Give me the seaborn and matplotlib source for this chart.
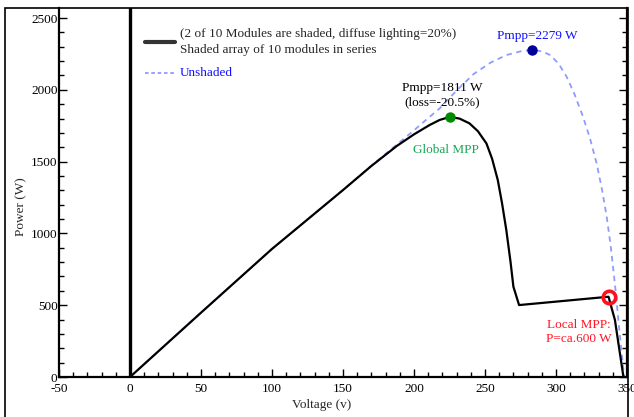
import matplotlib
matplotlib.use("Agg")
import matplotlib.pyplot as plt
import seaborn as sns
import pandas as pd
from matplotlib.patches import Rectangle
from matplotlib.lines import Line2D
from matplotlib.ticker import MultipleLocator

# ---- data ----
v_shaded = [0, 50, 100, 150, 170, 188, 200, 211, 218, 225, 232, 239, 245, 251, 255, 259, 262, 265, 268, 270, 274, 337, 341.5, 347.5]
p_shaded = [0, 448, 892, 1302, 1470, 1610, 1690, 1755, 1790, 1811, 1800, 1767, 1712, 1627, 1520, 1372, 1210, 1024, 800, 629, 501, 559, 397, 0]

v_unshaded = [0, 50, 100, 150, 170, 188, 200, 209, 218, 230, 242, 254, 265, 275, 283, 290, 296, 302, 307.5, 313, 319, 324, 328.6, 332.5, 335.7, 338.3, 340.4, 342.3, 343.9, 345.5, 347, 348]
p_unshaded = [0, 448, 892, 1302, 1472, 1620, 1718, 1795, 1870, 1995, 2110, 2190, 2242, 2268, 2279, 2268, 2242, 2180, 2091, 1970, 1813, 1660, 1488, 1300, 1116, 930, 745, 570, 397, 240, 97, 0]

global_mpp = (225, 1811)
unshaded_mpp = (283, 2279)
local_mpp = (337, 560)

xticks = [-50, 0, 50, 100, 150, 200, 250, 300, 350]
yticks = [0, 500, 1000, 1500, 2000, 2500]

df_s = pd.DataFrame({"V": v_shaded, "P": p_shaded})
df_u = pd.DataFrame({"V": v_unshaded, "P": p_unshaded})

sns.set_style("ticks")
plt.rcParams["font.family"] = ["Liberation Serif", "DejaVu Serif"]
plt.rcParams["font.size"] = 9.5
plt.rcParams["axes.unicode_minus"] = False

fig = plt.figure(figsize=(6.34, 4.17), dpi=100)
W, H = 634, 417
x0, x1, y_top, y_bot = 59, 627, 8, 377
ax = fig.add_axes([x0 / W, (H - y_bot) / H, (x1 - x0) / W, (y_bot - y_top) / H])

# frame around the figure (bottom edge falls outside)
fig.patches.append(Rectangle((5 / W, -0.2), (x1 + 1 - 5) / W, 1.2 - y_top / H,
                             transform=fig.transFigure, fill=False,
                             edgecolor="black", linewidth=1.2, clip_on=False))

sns.lineplot(data=df_u, x="V", y="P", ax=ax, sort=False, estimator=None,
             color="#8f9cff", linewidth=1.3, linestyle=(0, (3, 2.5)))
sns.lineplot(data=df_s, x="V", y="P", ax=ax, sort=False, estimator=None,
             color="black", linewidth=1.6)

ax.axvline(0, color="black", linewidth=2.4, zorder=1)

ax.plot(*global_mpp, "o", color="#008a00", markersize=6.5, zorder=5)
ax.plot(*unshaded_mpp, "o", color="#000099", markersize=6.5, zorder=5)
ax.plot(*local_mpp, "o", markerfacecolor="none", markeredgecolor="#ff1020",
        markeredgewidth=2.6, markersize=9, zorder=5)

ax.text(287, 2375, "Pmpp=2279 W", color="#1010ff", ha="center", va="center")
ax.text(220, 1964, "Pmpp=1811 W\n(loss=-20.5%)", color="black", ha="center",
        va="center", linespacing=1.25)
ax.text(222.5, 1581, "Global MPP", color="#18a855", ha="center", va="center")
ax.text(316, 313, "Local MPP:\nP=ca.600 W", color="#ff1525", ha="center",
        va="center", linespacing=1.3)

ax.set_xlim(-50, 350)
ax.set_ylim(0, 2570)
ax.set_xticks(xticks)
ax.set_yticks(yticks)
ax.xaxis.set_minor_locator(MultipleLocator(10))
ax.yaxis.set_minor_locator(MultipleLocator(100))
ax.tick_params(axis="both", which="both", direction="in", colors="black",
               labelsize=9.5, width=1.0)
ax.tick_params(axis="y", which="both", left=True, right=True, pad=1)
ax.tick_params(axis="x", which="both", bottom=True, top=False, pad=4)
ax.tick_params(which="major", length=6)
ax.tick_params(which="minor", length=3.5)

for side in ["left", "bottom", "right"]:
    ax.spines[side].set_visible(True)
    ax.spines[side].set_linewidth(1.6)
    ax.spines[side].set_color("black")
ax.spines["top"].set_visible(False)

ax.set_xlabel("Voltage (v)", fontsize=9.5)
ax.xaxis.set_label_coords((322 - x0) / (x1 - x0), -(399 - y_bot) / (y_bot - y_top))
ax.set_ylabel("Power (W)", fontsize=9.5)
ax.yaxis.set_label_coords(-(59 - 27) / (x1 - x0), (y_bot - 207) / (y_bot - y_top))

handles = [Line2D([], [], color="#333333", linewidth=3),
           Line2D([], [], color="#8f9cff", linewidth=1.3, linestyle=(0, (2, 1.5)))]
labels = ["(2 of 10 Modules are shaded, diffuse lighting=20%)\nShaded array of 10 modules in series",
          "Unshaded"]
leg = ax.legend(handles, labels, loc="upper left",
                bbox_to_anchor=((145 - x0) / (x1 - x0), (y_bot - 28) / (y_bot - y_top)),
                frameon=False, handlelength=2.3, handletextpad=0.35,
                fontsize=9.5, borderpad=0, borderaxespad=0, labelspacing=0.8)
leg.get_texts()[1].set_color("#1010ff")
for t in leg.get_texts():
    t.set_linespacing(1.5)
for col in leg._legend_handle_box.get_children():
    for item in col.get_children():
        item.align = "center"

fig.savefig("out.png", dpi=100)
